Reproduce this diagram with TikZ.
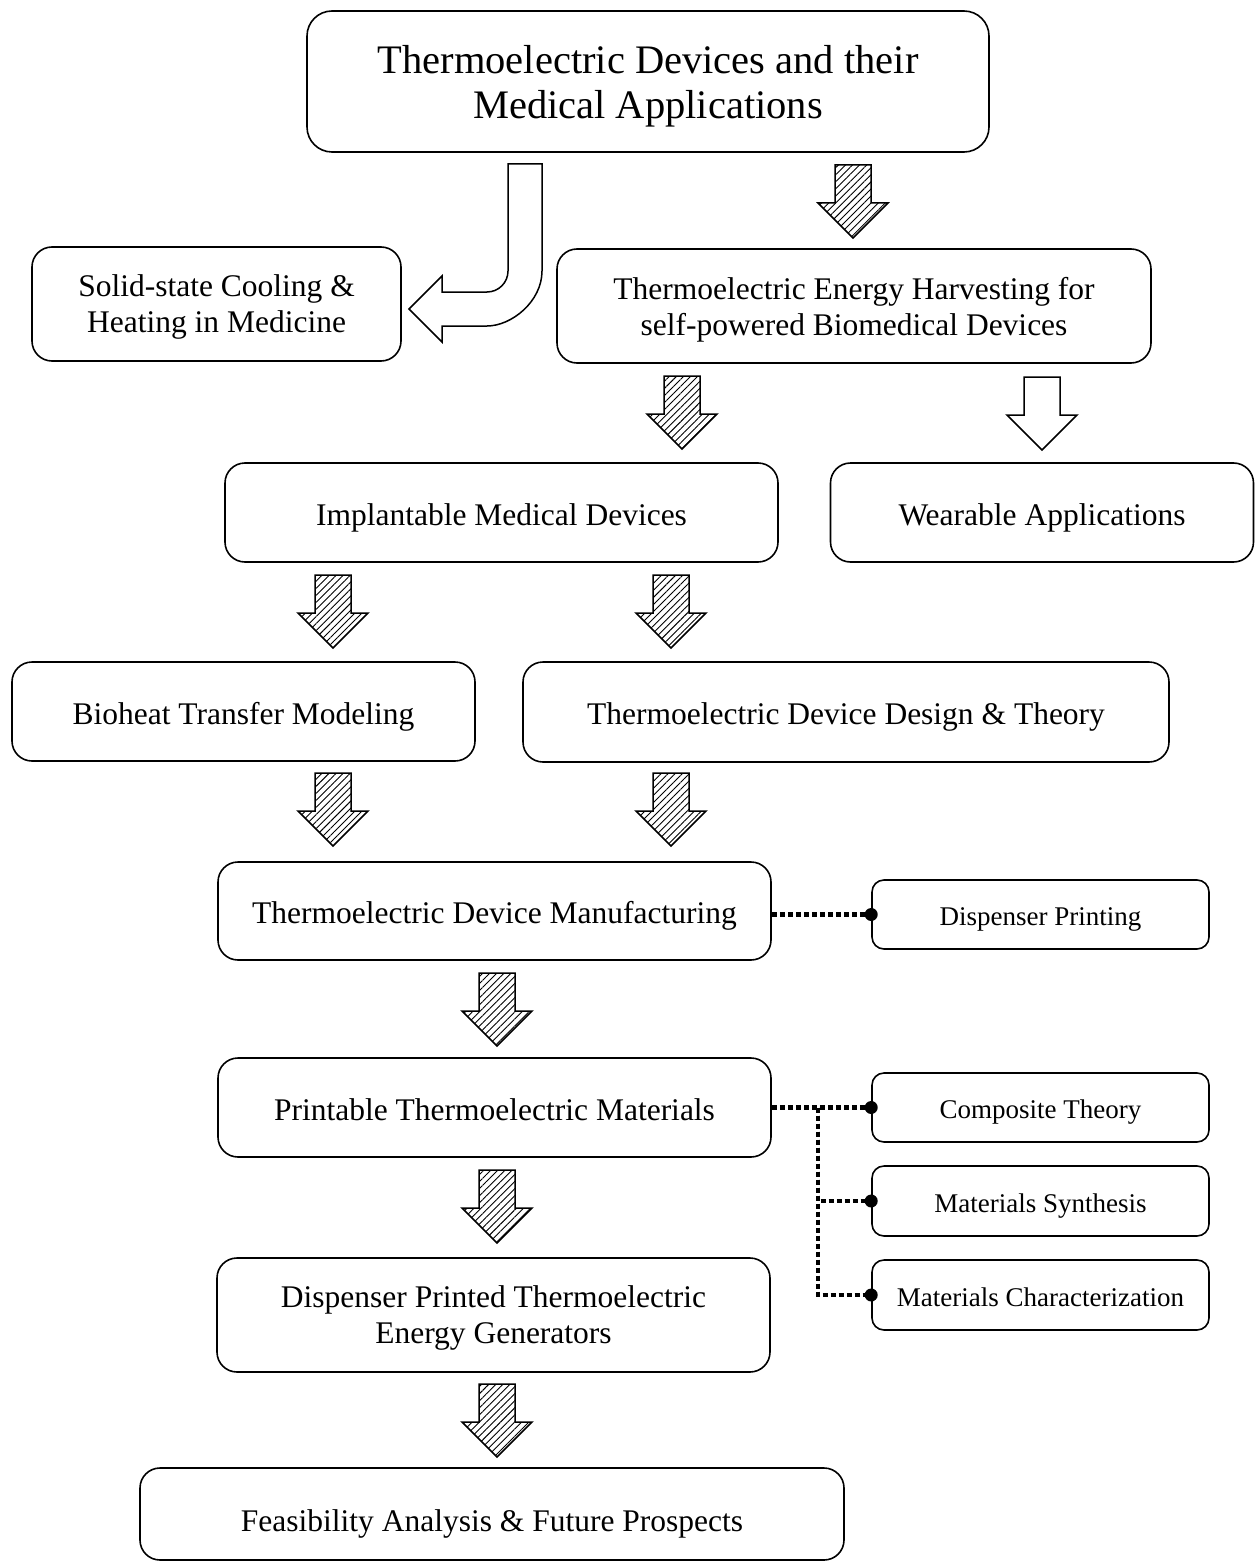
\documentclass[tikz,border=0pt]{standalone}
\usepackage{fontspec}
\setmainfont{Liberation Serif}
\usetikzlibrary{patterns.meta}
\tikzset{
  box/.style={draw, line width=1.6pt, rounded corners=20pt, inner sep=0pt, align=center,
    text depth=0pt, font=\fontsize{31.5}{36}\selectfont},
  onebox/.style={box, text height=25.5pt},
  titlebox/.style={box, rounded corners=25pt, font=\fontsize{40.5}{45}\selectfont},
  smallbox/.style={box, rounded corners=12pt, text height=22.5pt, font=\fontsize{27}{31}\selectfont},
  hatch/.style={draw, line width=1.5pt, pattern={Lines[angle=45,distance=5pt,line width=0.9pt]}},
  hollow/.style={draw, line width=1.5pt, fill=white},
  dotline/.style={line width=4.5pt, dash pattern=on 5pt off 3pt},
  downarrow/.pic={\draw[pic actions] (-18,0) -- (18,0) -- (18,38) -- (35,38) -- (0,73) -- (-35,38) -- (-18,38) -- cycle;}
}
\begin{document}
\begin{tikzpicture}[x=1pt,y=-1pt]
\useasboundingbox (0,0) rectangle (1255,1562);

\node[titlebox, minimum width=682pt, minimum height=141pt] (title) at (648,81.5) {Thermoelectric Devices and their\\Medical Applications};
\node[box, minimum width=369pt, minimum height=114pt] (solid) at (216.5,304) {Solid-state Cooling \&\\Heating in Medicine};
\node[box, minimum width=594pt, minimum height=114pt] (harv) at (854,306) {Thermoelectric Energy Harvesting for\\self-powered Biomedical Devices};
\node[onebox, minimum width=553pt, minimum height=99pt] (impl) at (501.5,512.5) {Implantable Medical Devices};
\node[onebox, minimum width=423pt, minimum height=99pt] (wear) at (1042,512.5) {Wearable Applications};
\node[onebox, minimum width=463pt, minimum height=99pt] (bio) at (243.5,711.5) {Bioheat Transfer Modeling};
\node[onebox, minimum width=646pt, minimum height=100pt] (design) at (846,712) {Thermoelectric Device Design \& Theory};
\node[onebox, minimum width=553pt, minimum height=98pt] (manu) at (494.5,911) {Thermoelectric Device Manufacturing};
\node[smallbox, minimum width=337pt, minimum height=69pt] (disp) at (1040.5,914.5) {Dispenser Printing};
\node[onebox, minimum width=553pt, minimum height=99pt] (print) at (494.5,1107.5) {Printable Thermoelectric Materials};
\node[smallbox, minimum width=337pt, minimum height=69pt] (comp) at (1040.5,1107.5) {Composite Theory};
\node[smallbox, minimum width=337pt, minimum height=70pt] (synth) at (1040.5,1201) {Materials Synthesis};
\node[smallbox, minimum width=337pt, minimum height=70pt] (charac) at (1040.5,1295) {Materials Characterization};
\node[box, minimum width=553pt, minimum height=114pt] (teg) at (493.5,1315) {Dispenser Printed Thermoelectric\\Energy Generators};
\node[box, text height=35.5pt, minimum width=704pt, minimum height=92pt] (feas) at (492,1514) {Feasibility Analysis \& Future Prospects};

% curved hollow arrow from title to solid-state box
\draw[hollow] (508,164) -- (542,164) -- (542,271)
  .. controls (542,301.4) and (511.6,326) .. (487,326)
  -- (442,326) -- (442,342) -- (409,309) -- (442,276) -- (442,292) -- (487,292)
  .. controls (498.6,292) and (508,282.6) .. (508,271) -- cycle;

% block arrows
\pic[hatch] at (853,165) {downarrow};
\pic[hatch] at (682,376) {downarrow};
\pic[hollow] at (1042,377) {downarrow};
\pic[hatch] at (333,575) {downarrow};
\pic[hatch] at (671,575) {downarrow};
\pic[hatch] at (333,773) {downarrow};
\pic[hatch] at (671,773) {downarrow};
\pic[hatch] at (497,973) {downarrow};
\pic[hatch] at (497,1170) {downarrow};
\pic[hatch] at (497,1384) {downarrow};

% dotted connectors
\draw[dotline] (manu.east |- disp.west) -- (disp.west);
\fill (disp.west) circle (6.5pt);
\coordinate (j) at (818,1107.5);
\draw[dotline] (print.east) -- (comp.west);
\draw[dotline] (j) |- (synth.west);
\draw[dotline] (j) |- (charac.west);
\fill (comp.west) circle (6.5pt);
\fill (synth.west) circle (6.5pt);
\fill (charac.west) circle (6.5pt);
\end{tikzpicture}
\end{document}
